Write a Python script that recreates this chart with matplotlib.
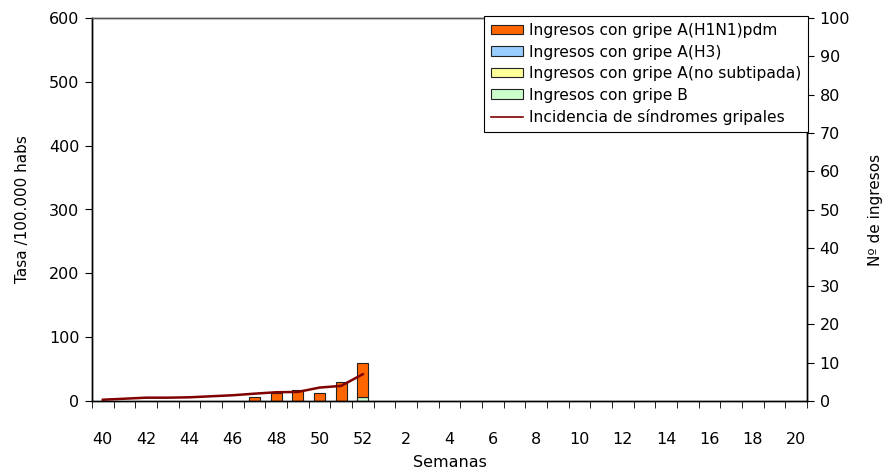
import numpy as np
import matplotlib
matplotlib.use("Agg")
import matplotlib.pyplot as plt
from matplotlib.patches import Patch

# ─── DATA ───────────────────────────────────────────────────────────────────

weeks = [str(w) for w in range(40, 53)] + [str(w) for w in range(1, 21)]
tick_labels = [w if i % 2 == 0 else "" for i, w in enumerate(weeks)]

# Nº de ingresos (right axis), weeks 40..52 then 1..20
h1n1 = [0, 0, 0, 0, 0, 0, 0, 1, 2, 3, 2, 5, 9] + [0] * 20
h3 = [0] * 33
no_subtipada = [0] * 33
gripe_b = [0, 0, 0, 0, 0, 0, 0, 0, 0, 0, 0, 0, 1] + [0] * 20

# Incidencia de síndromes gripales (left axis, tasa /100.000 habs)
incidencia = [2, 3.6, 5.2, 5.2, 5.8, 7.4, 9, 11.5, 13.7, 14.2, 21, 23.7, 42]

COLORS = {
    "h1n1": "#FF6600",
    "h3": "#99CCFF",
    "nosub": "#FFFF99",
    "b": "#CCFFCC",
    "line": "#800000",
}

# ─── PLOT ───────────────────────────────────────────────────────────────────

plt.rcParams["font.family"] = ["DejaVu Sans"]

fig = plt.figure(figsize=(8.88, 4.71), dpi=100)
ax = fig.add_axes([92 / 888, 70 / 471, (807 - 92) / 888, (401 - 18) / 471])
ax2 = ax.twinx()

x = np.arange(len(weeks))
w = 0.5
series = [
    (h1n1, "h1n1", "Ingresos con gripe A(H1N1)pdm"),
    (h3, "h3", "Ingresos con gripe A(H3)"),
    (no_subtipada, "nosub", "Ingresos con gripe A(no subtipada)"),
    (gripe_b, "b", "Ingresos con gripe B"),
]
# stacking: gripe B at the bottom, H1N1 on top; zero bars are not drawn
bottom = np.zeros(len(weeks))
for vals, key, label in reversed(series):
    vals = np.array(vals, dtype=float)
    mask = vals > 0
    if mask.any():
        ax2.bar(x[mask], vals[mask], w, bottom=bottom[mask], color=COLORS[key],
                edgecolor="#222222", linewidth=0.8)
    bottom += vals

line, = ax.plot(np.arange(len(incidencia)), incidencia, color=COLORS["line"],
                linewidth=1.8)
ax.set_zorder(ax2.get_zorder() + 1)
ax.patch.set_visible(False)

ax.set_xlim(-0.5, len(weeks) - 0.5)
ax.set_ylim(0, 600)
ax.set_yticks(range(0, 601, 100))
ax2.set_ylim(0, 100)
ax2.set_yticks(range(0, 101, 10))

ax.set_xticks(x)
ax.set_xticklabels(tick_labels, fontsize=11.5)
ax.tick_params(axis="x", length=0, pad=22)
ax.set_xticks(np.arange(-0.5, len(weeks), 1), minor=True)
ax.tick_params(axis="x", which="minor", length=5, direction="out")
ax.tick_params(axis="y", labelsize=11.5, length=5, pad=4)
ax2.tick_params(axis="y", labelsize=11.5, length=5, pad=4)

ax.set_xlabel("Semanas", fontsize=11.5, labelpad=6)
ax.set_ylabel("Tasa /100.000 habs", fontsize=11, labelpad=14)
ax2.set_ylabel("Nº de ingresos", fontsize=11, labelpad=13)

for a in (ax, ax2):
    for s in a.spines.values():
        s.set_linewidth(1.0)
    a.spines["top"].set_color("#555555")

handles = [Patch(facecolor=COLORS[k], edgecolor="#222222", linewidth=0.8)
           for _, k, _ in series]
handles.append(plt.Line2D([], [], color=COLORS["line"], linewidth=1.2))
labels = [lab for _, _, lab in series] + ["Incidencia de síndromes gripales"]
leg = fig.legend(handles=handles, labels=labels,
                 loc="upper right", bbox_to_anchor=(808 / 888, 1 - 16 / 471),
                 fontsize=11.2, frameon=True, fancybox=False, framealpha=1,
                 edgecolor="black", borderpad=0.45, labelspacing=0.42,
                 handlelength=2.0, handleheight=0.55, handletextpad=0.4,
                 borderaxespad=0)
leg.get_frame().set_linewidth(0.8)

fig.savefig("out.png", dpi=100)
